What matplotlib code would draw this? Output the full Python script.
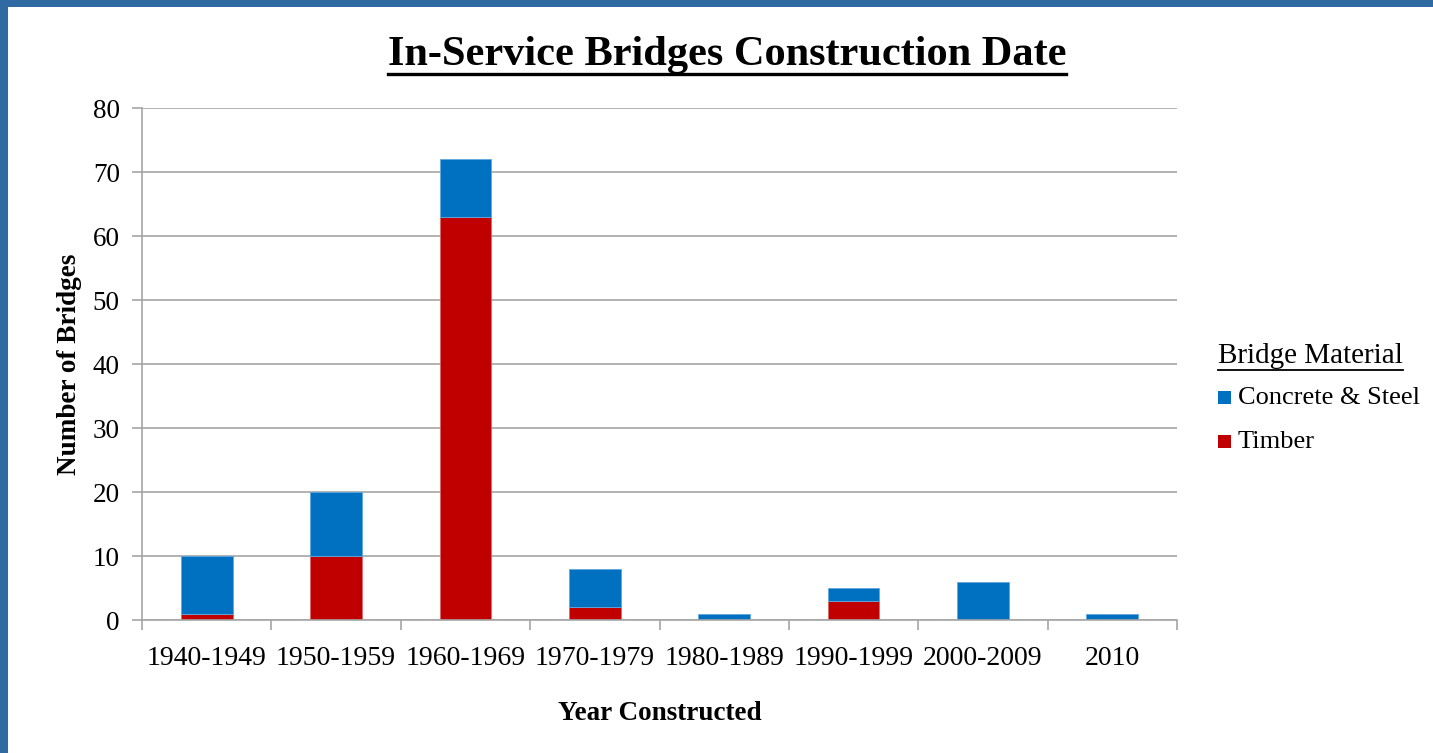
import matplotlib
matplotlib.use("Agg")
import matplotlib.pyplot as plt
import matplotlib.patches as patches
from matplotlib.lines import Line2D
import numpy as np

# ---------------------------------------------------------------------------
# Data
# ---------------------------------------------------------------------------
decades = ["1940-1949", "1950-1959", "1960-1969", "1970-1979",
           "1980-1989", "1990-1999", "2000-2009", "2010"]
timber = [1, 10, 63, 2, 0, 3, 0, 0]
concrete_steel = [9, 10, 9, 6, 1, 2, 6, 1]
y_ticks = [0, 10, 20, 30, 40, 50, 60, 70, 80]

BLUE = "#0070C0"
RED = "#C00000"
GRID = "#A6A6A6"

plt.rcParams["font.family"] = ["Liberation Serif", "DejaVu Serif"]

fig = plt.figure(figsize=(14.33, 7.53), dpi=100)
fig.patch.set_facecolor("#2f6aa2")
# white slide area (blue strip left and top like the reference)
fig.patches.append(patches.Rectangle((8 / 1433, 0), 1 - 8 / 1433, 1 - 7 / 753,
                                     transform=fig.transFigure,
                                     facecolor="white", edgecolor="none",
                                     zorder=-5))

ax = fig.add_axes([142 / 1433, 133 / 753, (1177 - 142) / 1433, (620 - 108) / 753])
ax.set_zorder(2)
ax.set_facecolor("white")

x = np.arange(len(decades))
w = 0.4
ax.bar(x, timber, w, color=RED, edgecolor="#e06666", linewidth=0.6,
       label="Timber", zorder=3)
ax.bar(x, concrete_steel, w, bottom=timber, color=BLUE, edgecolor="#5fa8e0",
       linewidth=0.6, label="Concrete & Steel", zorder=3)

ax.set_xlim(-0.5, len(decades) - 0.5)
ax.set_ylim(0, 80)
ax.set_yticks(y_ticks)
ax.set_xticks(x)
ax.set_xticklabels(decades)
ax.set_xticks(np.arange(len(decades) + 1) - 0.5, minor=True)
ax.tick_params(axis="x", which="major", length=0, pad=19, labelsize=20)
ax.tick_params(axis="x", which="minor", length=7, color=GRID, width=1.2)
ax.tick_params(axis="y", length=7, color=GRID, width=1.2, pad=9, labelsize=19.5)

ax.grid(axis="y", color=GRID, linewidth=1.2, zorder=0)
for side in ["top", "right"]:
    ax.spines[side].set_visible(False)
for side in ["left", "bottom"]:
    ax.spines[side].set_color(GRID)
    ax.spines[side].set_linewidth(1.2)
ax.spines["bottom"].set_zorder(4)

ax.set_xlabel("Year Constructed", fontsize=19.5, fontweight="bold", labelpad=21)
ax.set_ylabel("Number of Bridges", fontsize=19.5, fontweight="bold", labelpad=8)

title = fig.text(727 / 1433, 1 - 55 / 753, "In-Service Bridges Construction Date",
                 fontsize=30.5, fontweight="bold", ha="center", va="center")

# legend (manual, to allow an underlined heading)
leg_title = fig.text(1218 / 1433, 1 - 356 / 753, "Bridge Material",
                     fontsize=21, ha="left", va="center")
legend_items = [("Concrete & Steel", BLUE, 398), ("Timber", RED, 442)]
for name, color, ypix in legend_items:
    fig.patches.append(patches.Rectangle((1218 / 1433, 1 - (ypix + 6) / 753),
                                         13 / 1433, 13 / 753,
                                         transform=fig.transFigure,
                                         facecolor=color, edgecolor="none"))
    fig.text(1238 / 1433, 1 - ypix / 753, name, fontsize=19,
             ha="left", va="center")


def underline(txt, gap=3, lw=2):
    fig.canvas.draw()
    bb = txt.get_window_extent().transformed(fig.transFigure.inverted())
    ypos = bb.y0 - gap / 753
    fig.lines.append(Line2D([bb.x0, bb.x1], [ypos, ypos],
                            transform=fig.transFigure, color="black",
                            linewidth=lw))


underline(title, gap=0, lw=2.4)
underline(leg_title, gap=1, lw=1.3)

fig.savefig("out.png", dpi=100, facecolor=fig.get_facecolor())
